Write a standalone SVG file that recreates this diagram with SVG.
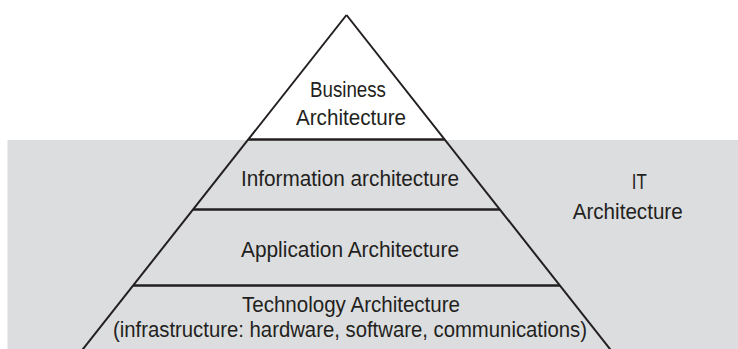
<svg xmlns="http://www.w3.org/2000/svg" width="738" height="349" viewBox="0 0 738 349">
<style>
.lbl{font-family:"Liberation Sans",Arial,sans-serif;font-size:22px;fill:#231f20;text-anchor:middle}
.lft{text-anchor:start}
.edge{stroke:#231f20;stroke-width:2;fill:none;stroke-linecap:butt}
.div{stroke:#231f20;stroke-width:2.7;fill:none}
</style>
<rect x="0" y="0" width="738" height="349" fill="#ffffff"/>
<rect id="it-band" x="7.5" y="140" width="730.5" height="209" fill="#dcdddf"/>
<g id="connectors">
<line class="edge" x1="346.5" y1="15" x2="82" y2="350.3"/>
<line class="edge" x1="346.5" y1="15" x2="611" y2="350.3"/>
<line class="div" x1="248.3" y1="139.5" x2="444.7" y2="139.5"/>
<line class="div" x1="193" y1="209.5" x2="500" y2="209.5"/>
<line class="div" x1="133.1" y1="285.5" x2="559.9" y2="285.5"/>
</g>
<g id="business">
<text class="lbl" x="348" y="97" textLength="76" lengthAdjust="spacingAndGlyphs">Business</text>
<text class="lbl" x="351" y="125" textLength="110" lengthAdjust="spacingAndGlyphs">Architecture</text>
</g>
<g id="information">
<text class="lbl" x="350" y="186" textLength="218" lengthAdjust="spacingAndGlyphs">Information architecture</text>
</g>
<g id="application">
<text class="lbl" x="350" y="257" textLength="218" lengthAdjust="spacingAndGlyphs">Application Architecture</text>
</g>
<g id="technology">
<text class="lbl" x="351" y="312" textLength="218" lengthAdjust="spacingAndGlyphs">Technology Architecture</text>
<text class="lbl" x="350" y="337" textLength="474" lengthAdjust="spacingAndGlyphs">(infrastructure: hardware, software, communications)</text>
</g>
<g id="it-architecture">
<text class="lbl lft" x="631.7" y="189" textLength="15" lengthAdjust="spacingAndGlyphs">IT</text>
<text class="lbl lft" x="572.7" y="219" textLength="110" lengthAdjust="spacingAndGlyphs">Architecture</text>
</g>
</svg>
